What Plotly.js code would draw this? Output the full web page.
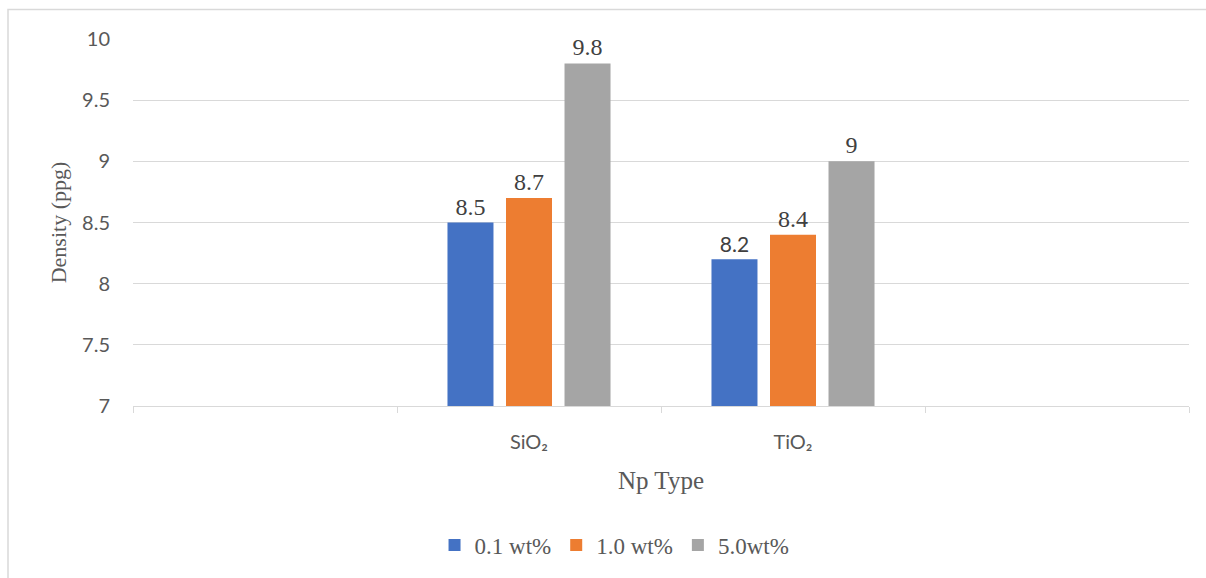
<!DOCTYPE html>
<html>
<head>
<meta charset="utf-8">
<script src="https://cdn.plot.ly/plotly-3.0.1.min.js"></script>
<style>
  html, body { margin: 0; padding: 0; background: #ffffff; }
  #chart { width: 1206px; height: 578px; }
</style>
</head>
<body>
<div id="chart"></div>
<script>
// Category slots: the first and last are empty spacer columns
const categories = [" ", "SiO₂", "TiO₂", "  "];
const npTypes = ["SiO₂", "TiO₂"];

// Density (ppg) per nanoparticle type, one array per concentration
const seriesNames = ["0.1 wt%", "1.0 wt%", "5.0wt%"];
const density01 = [8.5, 8.2];
const density10 = [8.7, 8.4];
const density50 = [9.8, 9.0];

const colors = ["#4472C4", "#ED7D31", "#A5A5A5"];
const serif = "'Liberation Serif', 'Times New Roman', serif";
const sans = "Lato, 'DejaVu Sans', sans-serif";

// Label faces per point (the 8.2 label is set in a sans face)
const labelFonts01 = [serif, sans];
const labelSizes01 = [24, 21];

function barTrace(name, values, color, fontFamily, fontSize) {
  const f = { family: fontFamily, size: fontSize, color: "#404040" };
  return {
    type: "bar",
    name: name,
    x: npTypes,
    y: values,
    marker: { color: color },
    texttemplate: "%{y}",
    textposition: "outside",
    textfont: f,
    outsidetextfont: f,
    constraintext: "none",
    cliponaxis: false,
    hoverinfo: "skip"
  };
}

const data = [
  barTrace(seriesNames[0], density01, colors[0], labelFonts01, labelSizes01),
  barTrace(seriesNames[1], density10, colors[1], serif, 24),
  barTrace(seriesNames[2], density50, colors[2], serif, 24)
];

const layout = {
  width: 1206,
  height: 578,
  margin: { l: 133, r: 17, t: 39, b: 167 },
  paper_bgcolor: "#ffffff",
  plot_bgcolor: "#ffffff",
  barmode: "group",
  bargap: 0.335,
  bargroupgap: 0.214,
  showlegend: true,
  legend: {
    orientation: "h",
    x: 0.456,
    xanchor: "center",
    y: -0.379,
    yanchor: "middle",
    font: { family: serif, size: 23, color: "#595959" },
    traceorder: "normal"
  },
  xaxis: {
    type: "category",
    categoryorder: "array",
    categoryarray: categories,
    range: [-0.5, 3.5],
    tickson: "boundaries",
    ticks: "outside",
    ticklen: 6,
    tickcolor: "#D9D9D9",
    showgrid: false,
    showline: true,
    linecolor: "#D9D9D9",
    linewidth: 1,
    tickfont: { family: sans, size: 20, color: "#595959" },
    ticklabelstandoff: 18,
    title: {
      text: "Np Type",
      font: { family: serif, size: 25, color: "#595959" },
      standoff: 19
    },
    fixedrange: true
  },
  yaxis: {
    range: [7, 10],
    dtick: 0.5,
    tick0: 7,
    showgrid: true,
    gridcolor: "#D9D9D9",
    gridwidth: 1,
    zeroline: false,
    showline: false,
    ticks: "",
    tickfont: { family: sans, size: 20, color: "#595959" },
    ticklabelstandoff: 22,
    title: {
      text: "Density (ppg)",
      font: { family: serif, size: 22, color: "#595959" },
      standoff: 9
    },
    fixedrange: true
  },
  shapes: [
    {
      type: "rect",
      xref: "paper",
      yref: "paper",
      x0: (8 - 133) / 1056,
      x1: (1212 - 133) / 1056,
      y0: (411 - 590) / 372,
      y1: (411 - 9) / 372,
      line: { color: "#D9D9D9", width: 1.5 },
      fillcolor: "rgba(0,0,0,0)",
      layer: "below"
    }
  ]
};

Plotly.newPlot("chart", data, layout, { displayModeBar: false, staticPlot: true });
</script>
</body>
</html>
